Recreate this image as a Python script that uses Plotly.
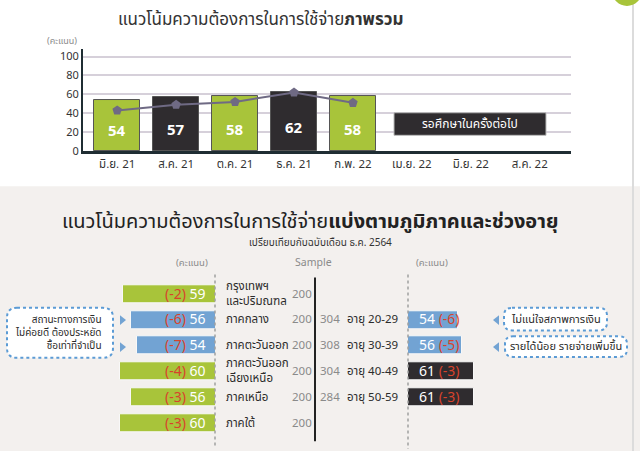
import plotly.graph_objects as go

# ---------------- data ----------------
months = ["มิ.ย. 21", "ส.ค. 21", "ต.ค. 21", "ธ.ค. 21", "ก.พ. 22", "เม.ย. 22", "มิ.ย. 22", "ส.ค. 22"]
overall_scores = [54, 57, 58, 62, 58]
overall_trend = [43, 49, 52, 62, 51]

regions = ["กรุงเทพฯ<br>และปริมณฑล", "ภาคกลาง", "ภาคตะวันออก", "ภาคตะวันออก<br>เฉียงเหนือ", "ภาคเหนือ", "ภาคใต้"]
region_scores = [59, 56, 54, 60, 56, 60]
region_change = [-2, -6, -7, -4, -3, -3]
region_sample = [200, 200, 200, 200, 200, 200]

ages = ["อายุ 20-29", "อายุ 30-39", "อายุ 40-49", "อายุ 50-59"]
age_scores = [54, 56, 61, 61]
age_change = [-6, -5, -3, -3]
age_sample = [304, 308, 304, 284]

# ---------------- style ----------------
W, H = 640, 460
FONT = "Noto Sans Thai, Tahoma, Noto Sans, sans-serif"
GREEN = "#a8c43a"
DARK = "#2f2c2f"
BLUE = "#72a3d3"
RED = "#d8432c"
TXT = "#2b2b2b"
GREY = "#8a8a8a"
DASH = "#5b9bd5"


def px(x):
    return x / W


def py(y):
    return 1 - y / H


def ann(**kw):
    kw.setdefault("xanchor", "center")
    kw.setdefault("yanchor", "middle")
    kw.setdefault("showarrow", False)
    kw.setdefault("xref", "paper")
    kw.setdefault("yref", "paper")
    return kw


fig = go.Figure()

# ---------------- top chart ----------------
top_colors = [GREEN, DARK, GREEN, DARK, GREEN]
fig.add_trace(go.Bar(x=months[:len(overall_scores)], y=overall_scores, width=0.78,
                     marker=dict(color=top_colors, line=dict(color="#555", width=1)),
                     xaxis="x", yaxis="y", showlegend=False, hoverinfo="skip"))
fig.add_trace(go.Scatter(x=months[:len(overall_trend)], y=overall_trend, mode="lines+markers",
                         line=dict(color="#6f6a84", width=2),
                         marker=dict(symbol="pentagon", size=10, color="#6f6a84"),
                         xaxis="x", yaxis="y", showlegend=False, hoverinfo="skip"))

annotations = []
for m, v in zip(months, overall_scores):
    annotations.append(ann(x=m, y=v * 0.38, xref="x", yref="y", text=f"<b>{v}</b>",
                           font=dict(family=FONT, size=15, color="white")))

# ---------------- bottom: regions (left) / ages (right) ----------------
region_colors = [GREEN, BLUE, BLUE, GREEN, GREEN, GREEN]
rows = list(range(len(regions)))
fig.add_trace(go.Bar(x=region_scores, y=rows, orientation="h", width=0.7,
                     marker=dict(color=region_colors, line=dict(color="#f8f8f8", width=1)),
                     xaxis="x2", yaxis="y2", showlegend=False, hoverinfo="skip"))

age_rows = [1, 2, 3, 4]
age_colors = [BLUE, BLUE, DARK, DARK]
fig.add_trace(go.Bar(x=age_scores, y=age_rows, orientation="h", width=0.7,
                     marker=dict(color=age_colors, line=dict(color="#f8f8f8", width=1)),
                     xaxis="x3", yaxis="y3", showlegend=False, hoverinfo="skip"))

for r, (name, v, c, s) in enumerate(zip(regions, region_scores, region_change, region_sample)):
    annotations.append(ann(x=px(208), y=r, yref="y2", xanchor="right",
                           text=f"<span style='color:{RED}'>({c})</span> {v}",
                           font=dict(family=FONT, size=14, color="white")))
    annotations.append(ann(x=px(224), y=r, yref="y2", xanchor="left", align="left",
                           text=name, font=dict(family=FONT, size=11.5, color=TXT)))
    annotations.append(ann(x=px(302), y=r, yref="y2",
                           text=str(s), font=dict(family=FONT, size=11.5, color=GREY)))

for r, name, v, c, s in zip(age_rows, ages, age_scores, age_change, age_sample):
    annotations.append(ann(x=px(417), y=r, yref="y3", xanchor="left",
                           text=f"{v} <span style='color:{RED}'>({c})</span>",
                           font=dict(family=FONT, size=14, color="white")))
    annotations.append(ann(x=px(330), y=r, yref="y3",
                           text=str(s), font=dict(family=FONT, size=11.5, color=GREY)))
    annotations.append(ann(x=px(345), y=r, yref="y3", xanchor="left",
                           text=name, font=dict(family=FONT, size=11.5, color=TXT)))

# ---------------- static texts ----------------
annotations += [
    ann(x=px(260), y=py(20), text="แนวโน้มความต้องการในการใช้จ่าย<b>ภาพรวม</b>",
        font=dict(family=FONT, size=17, color="#333")),
    ann(x=px(62), y=py(42), text="(คะแนน)", font=dict(family=FONT, size=9, color=GREY)),
    ann(x=px(470), y=py(126.5), text="รอศึกษาในครั้งต่อไป", font=dict(family=FONT, size=12, color="white")),
    ann(x=px(310), y=py(226), text="แนวโน้มความต้องการในการใช้จ่าย<b>แบ่งตามภูมิภาคและช่วงอายุ</b>",
        font=dict(family=FONT, size=20, color="#222")),
    ann(x=px(320), y=py(248), text="เปรียบเทียบกับฉบับเดือน ธ.ค. 2564",
        font=dict(family=FONT, size=10, color="#333")),
    ann(x=px(192), y=py(268), text="(คะแนน)", font=dict(family=FONT, size=9.5, color=GREY)),
    ann(x=px(313), y=py(268), text="Sample", font=dict(family=FONT, size=10.5, color=GREY)),
    ann(x=px(432), y=py(268), text="(คะแนน)", font=dict(family=FONT, size=9.5, color=GREY)),
    ann(x=px(104), y=py(340), xanchor="right", align="right",
        text="สถานะทางการเงิน<br>ไม่ค่อยดี ต้องประหยัด<br>ซื้อเท่าที่จำเป็น",
        font=dict(family=FONT, size=10, color=TXT)),
    ann(x=px(556), y=py(326), text="ไม่แน่ใจสภาพการเงิน", font=dict(family=FONT, size=11, color=TXT)),
    ann(x=px(566), y=py(353.5), text="รายได้น้อย รายจ่ายเพิ่มขึ้น", font=dict(family=FONT, size=11, color=TXT)),
]


def rounded(x0, y0, x1, y1, r):
    def P(x, y):
        return f"{px(x):.5f},{py(y):.5f}"
    return (f"M {P(x0 + r, y0)} L {P(x1 - r, y0)} Q {P(x1, y0)} {P(x1, y0 + r)} "
            f"L {P(x1, y1 - r)} Q {P(x1, y1)} {P(x1 - r, y1)} L {P(x0 + r, y1)} "
            f"Q {P(x0, y1)} {P(x0, y1 - r)} L {P(x0, y0 + r)} Q {P(x0, y0)} {P(x0 + r, y0)} Z")


def tri(x, y, d):
    return f"M {px(x):.5f},{py(y - 5):.5f} L {px(x + d):.5f},{py(y):.5f} L {px(x):.5f},{py(y + 5):.5f} Z"


shapes = [
    dict(type="rect", xref="paper", yref="paper", x0=0, x1=1, y0=0, y1=py(190),
         fillcolor="#f3f0ee", line=dict(width=0), layer="below"),
    dict(type="line", xref="paper", yref="paper", x0=px(633), x1=px(633), y0=0, y1=1,
         line=dict(color="#dcdcdc", width=2), layer="below"),
    dict(type="circle", xref="paper", yref="paper", x0=px(612), x1=px(642), y0=py(6), y1=py(-24),
         fillcolor=GREEN, line=dict(width=0)),
    dict(type="rect", xref="paper", yref="paper", x0=px(394), x1=px(546), y0=py(138), y1=py(115),
         fillcolor=DARK, line=dict(color="#bbbbbb", width=1)),
    dict(type="line", xref="paper", yref="paper", x0=px(215), x1=px(215), y0=py(280), y1=py(456),
         line=dict(color="#a0a0a0", width=1.5, dash="dot")),
    dict(type="line", xref="paper", yref="paper", x0=px(408), x1=px(408), y0=py(280), y1=py(458),
         line=dict(color="#a0a0a0", width=1.5, dash="dot")),
    dict(type="line", xref="paper", yref="paper", x0=px(315), x1=px(315), y0=py(283), y1=py(450),
         line=dict(color="#222", width=2)),
    dict(type="path", xref="paper", yref="paper", path=rounded(7, 314, 113, 365, 10),
         fillcolor="white", line=dict(color=DASH, width=2, dash="dot")),
    dict(type="path", xref="paper", yref="paper", path=rounded(504, 314, 607, 337, 8),
         fillcolor="white", line=dict(color=DASH, width=2, dash="dot")),
    dict(type="path", xref="paper", yref="paper", path=rounded(505, 343, 627, 364, 8),
         fillcolor="white", line=dict(color=DASH, width=2, dash="dot")),
    dict(type="path", xref="paper", yref="paper", path=tri(120, 326.5, 6), fillcolor=BLUE, line=dict(width=0)),
    dict(type="path", xref="paper", yref="paper", path=tri(120, 354, 6), fillcolor=BLUE, line=dict(width=0)),
    dict(type="path", xref="paper", yref="paper", path=tri(499, 326.5, -6), fillcolor=BLUE, line=dict(width=0)),
    dict(type="path", xref="paper", yref="paper", path=tri(499, 354, -6), fillcolor=BLUE, line=dict(width=0)),
]

row_dom = [py(444.6), py(286.9)]

fig.update_layout(
    width=W, height=H, margin=dict(l=0, r=0, t=0, b=0),
    paper_bgcolor="white", plot_bgcolor="rgba(0,0,0,0)",
    font=dict(family=FONT, color=TXT),
    xaxis=dict(domain=[px(83), px(571)], type="category", categoryorder="array", categoryarray=months,
               range=[-0.58, 7.7], showline=True, linecolor="#1f2d33", linewidth=2.5,
               showgrid=False, ticks="", tickfont=dict(family=FONT, size=11.5, color="#333"),
               anchor="y", fixedrange=True),
    yaxis=dict(domain=[py(154), py(50)], range=[0, 108], tickvals=[0, 20, 40, 60, 80, 100],
               showline=True, linecolor="#1f2d33", linewidth=2, showgrid=True, gridcolor="#d6d0da",
               gridwidth=2, zeroline=False, ticks="", tickfont=dict(family=FONT, size=11, color="#333"),
               anchor="x", fixedrange=True),
    xaxis2=dict(domain=[px(100), px(215)], range=[67.1, 26.5], visible=False, anchor="y2"),
    yaxis2=dict(domain=row_dom, range=[5.5, -0.5], visible=False, anchor="x2"),
    xaxis3=dict(domain=[px(408), px(600)], range=[32.3, 116.1], visible=False, anchor="y3"),
    yaxis3=dict(domain=row_dom, range=[5.5, -0.5], visible=False, anchor="x3"),
    annotations=annotations, shapes=shapes, bargap=0,
)

fig.write_html("out.html")
